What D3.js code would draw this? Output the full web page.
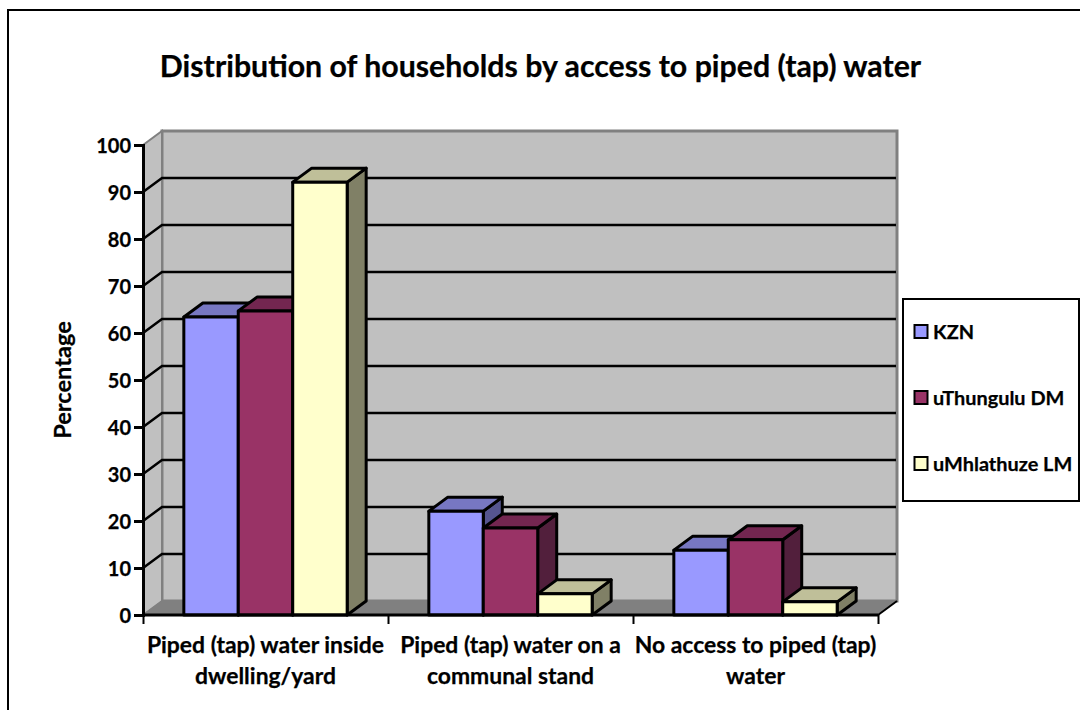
<!DOCTYPE html>
<html>
<head>
<meta charset="utf-8">
<script src="https://cdn.jsdelivr.net/npm/d3@7/dist/d3.min.js"></script>
<style>
  html, body { margin: 0; padding: 0; background: #fff; }
  svg { display: block; }
  text { font-family: Lato, "Open Sans", sans-serif; font-weight: 700; fill: #000; stroke: #000; stroke-width: 0.25px; }
</style>
</head>
<body>
<svg id="chart" width="1080" height="710"></svg>
<script>
const chartTitle = "Distribution of households by access to piped (tap) water";
const yAxisTitle = "Percentage";
const categories = ["Piped (tap) water inside|dwelling/yard", "Piped (tap) water on a|communal stand", "No access to piped (tap)|water"];
const seriesNames = ["KZN", "uThungulu DM", "uMhlathuze LM"];
const kznValues = [63.4, 22.1, 13.8];
const uThunguluValues = [64.7, 18.5, 16];
const uMhlathuzeValues = [92.1, 4.5, 2.8];
const yTicks = [0, 10, 20, 30, 40, 50, 60, 70, 80, 90, 100];
const frontColours = ["#9999ff", "#993366", "#ffffcc"];
const topColours = ["#7777c2", "#732650", "#bfbf99"];
const sideColours = ["#55558f", "#521f3c", "#808066"];

const seriesValues = [kznValues, uThunguluValues, uMhlathuzeValues];
const depthX = 19, depthY = -14;

const svg = d3.select("#chart");
const y = d3.scaleLinear().domain([0, 100]).range([615, 145]);
const x0 = d3.scaleBand().domain(categories).range([143, 878]);
const x1 = d3.scaleBand().domain(seriesNames).range([0, x0.bandwidth()]).paddingOuter(0.75).paddingInner(0);

const poly = pts => pts.map(p => p.join(",")).join(" ");

// Outer chart frame, open at the right and bottom edges
svg.append("path").attr("d", "M8,710V10H1080").attr("fill", "none").attr("stroke", "#000").attr("stroke-width", 2);

// Title
svg.append("text").attr("x", 540.5).attr("y", 77).attr("text-anchor", "middle")
  .attr("font-size", 30.3).text(chartTitle);

// 3D box: back wall, side wall, floor
const x0L = x0.range()[0], x0R = x0.range()[1];
const yBase = y(0), yTop = y(100);
const walls = svg.append("g");
walls.append("polygon")
  .attr("points", poly([[x0L + depthX, yTop + depthY], [x0R + depthX, yTop + depthY], [x0R + depthX, yBase + depthY], [x0L + depthX, yBase + depthY]]))
  .attr("fill", "#c0c0c0").attr("stroke", "#808080").attr("stroke-width", 3);
walls.append("polygon")
  .attr("points", poly([[x0L, yTop], [x0L + depthX, yTop + depthY], [x0L + depthX, yBase + depthY], [x0L, yBase]]))
  .attr("fill", "#c0c0c0").attr("stroke", "#808080").attr("stroke-width", 2);
walls.append("polygon")
  .attr("points", poly([[x0L, yBase], [x0L + depthX, yBase + depthY], [x0R + depthX, yBase + depthY], [x0R, yBase]]))
  .attr("fill", "#808080").attr("stroke", "#808080").attr("stroke-width", 1);

// Gridlines run across the side wall and the back wall
const grid = svg.append("g").attr("fill", "none").attr("stroke", "#000").attr("stroke-width", 2.5);
grid.selectAll("path").data(yTicks.filter(t => t > 0 && t < 100)).join("path")
  .attr("d", t => `M${x0L},${y(t)}L${x0L + depthX},${y(t) + depthY}H${x0R + depthX - 1}`);
// Short diagonal at the floor's right end
svg.append("path").attr("d", `M${x0R},${yBase}L${x0R + depthX},${yBase + depthY}`).attr("stroke", "#000").attr("stroke-width", 2);

// Bars: one extruded box per value, drawn left to right so later boxes overlap
const bars = svg.append("g").attr("stroke", "#000").attr("stroke-width", 3).attr("stroke-linejoin", "round");
categories.forEach((cat, ci) => {
  seriesNames.forEach((name, si) => {
    const v = seriesValues[si][ci];
    const left = x0(cat) + x1(name), right = left + x1.bandwidth();
    const top = y(v), bottom = y(0);
    const g = bars.append("g");
    g.append("polygon").attr("fill", sideColours[si])
      .attr("points", poly([[right, top], [right + depthX, top + depthY], [right + depthX, bottom + depthY], [right, bottom]]));
    g.append("polygon").attr("fill", topColours[si])
      .attr("points", poly([[left, top], [left + depthX, top + depthY], [right + depthX, top + depthY], [right, top]]));
    g.append("rect").attr("fill", frontColours[si])
      .attr("x", left).attr("y", top).attr("width", right - left).attr("height", bottom - top);
  });
});

// Value axis
const yAxis = d3.axisLeft(y).tickValues(yTicks).tickSize(9).tickPadding(3);
const yG = svg.append("g").attr("transform", `translate(${x0L},0)`).call(yAxis);
yG.select(".domain").attr("stroke", "#000").attr("stroke-width", 3);
yG.selectAll(".tick line").attr("stroke", "#000").attr("stroke-width", 3);
yG.selectAll(".tick text").attr("font-size", 20).attr("dy", "0.35em");
yG.attr("font-family", null);

// Category axis: ticks sit on band boundaries, labels in two centred lines
const bandEdges = [x0L].concat(categories.map(c => x0(c) + x0.bandwidth()));
const edgeScale = d3.scaleOrdinal().domain(bandEdges).range(bandEdges);
const xAxis = d3.axisBottom(edgeScale).tickValues(bandEdges).tickSize(9).tickFormat("");
const xG = svg.append("g").attr("transform", `translate(0,${yBase})`).call(xAxis);
xG.select(".domain").attr("stroke", "#000").attr("stroke-width", 3).attr("d", `M${x0L},0H${x0R}`);
xG.selectAll(".tick line").attr("stroke", "#000").attr("stroke-width", 2);

const labels = svg.append("g").attr("text-anchor", "middle").attr("font-size", 22.9);
categories.forEach(cat => {
  const cx = x0(cat) + x0.bandwidth() / 2;
  cat.split("|").forEach((line, i) => {
    labels.append("text").attr("x", cx).attr("y", 652.5 + i * 31).text(line);
  });
});

// Vertical axis title
svg.append("text").attr("transform", "translate(71,380) rotate(-90)")
  .attr("text-anchor", "middle").attr("font-size", 23.6).text(yAxisTitle);

// Legend
const legend = svg.append("g");
legend.append("rect").attr("x", 903).attr("y", 299).attr("width", 176).attr("height", 202)
  .attr("fill", "#fff").attr("stroke", "#000").attr("stroke-width", 2);
seriesNames.forEach((name, i) => {
  const cy = 331.5 + i * 66;
  legend.append("rect").attr("x", 914.5).attr("y", cy - 6.5).attr("width", 13).attr("height", 13)
    .attr("fill", frontColours[i]).attr("stroke", "#000").attr("stroke-width", 2);
  legend.append("text").attr("x", 933).attr("y", cy + 7.5).attr("font-size", 19.9).text(name);
});
</script>
</body>
</html>
